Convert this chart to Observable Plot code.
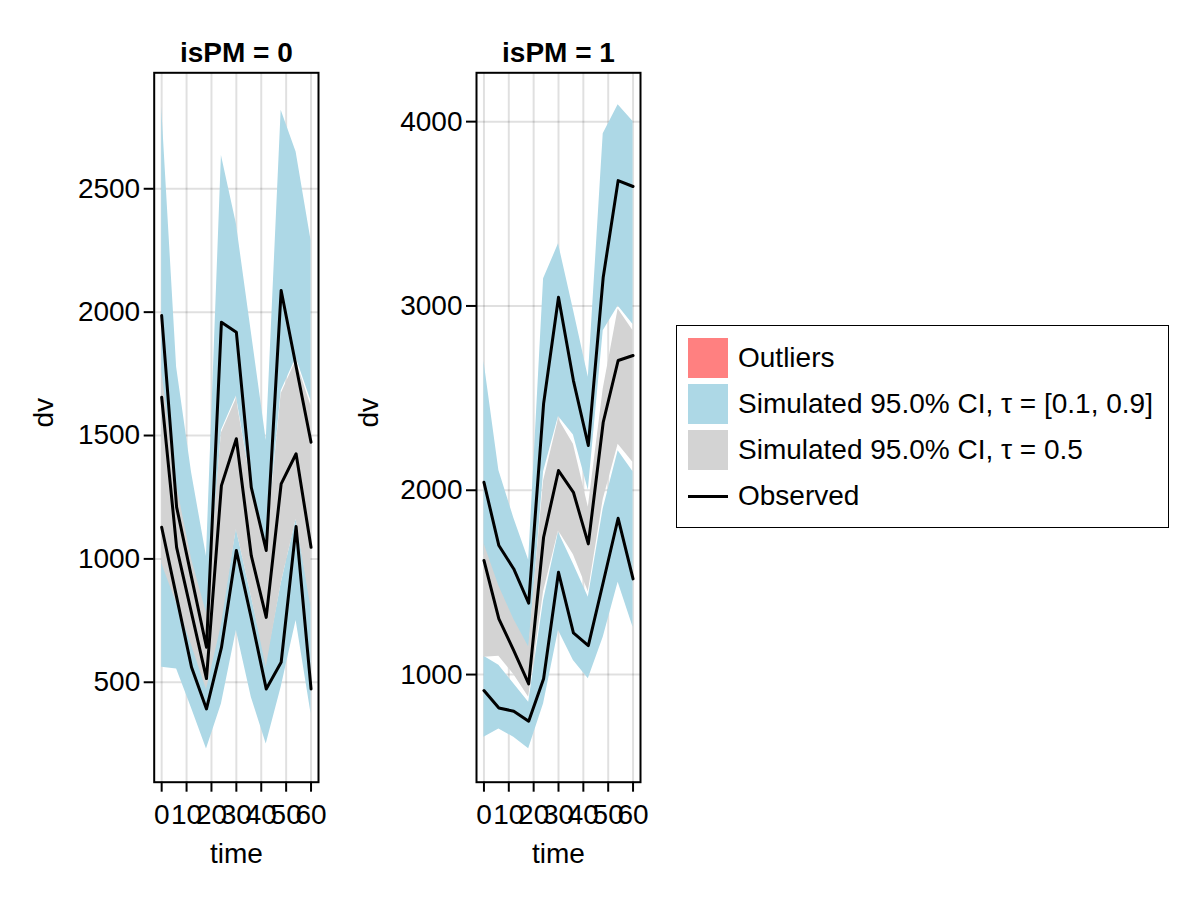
<!DOCTYPE html>
<html>
<head>
<meta charset="utf-8">
<script src="https://cdn.jsdelivr.net/npm/d3@7"></script>
<script src="https://cdn.jsdelivr.net/npm/@observablehq/plot@0.6"></script>
<style>
  html, body { margin: 0; padding: 0; background: #fff; }
  #root { position: relative; width: 1200px; height: 900px; font-family: "Liberation Sans", Arial, sans-serif; }
  #root svg { position: absolute; top: 0; overflow: visible; }
  #legend { position: absolute; left: 676px; top: 325px; width: 493px; height: 203px; border: 1.5px solid #000; box-sizing: border-box; font-size: 28px; color: #000; }
  .item { position: absolute; left: 11px; height: 40px; display: flex; align-items: center; }
  .sw { width: 40px; height: 40px; margin-right: 10px; flex: none; }
  .ln { width: 40px; height: 0; border-top: 3px solid #000; margin-right: 10px; flex: none; }
</style>
</head>
<body>
<div id="root"></div>
<script>
const times = [0, 6, 12, 18, 24, 30, 36, 42, 48, 54, 60];
const xTicks = [0, 10, 20, 30, 40, 50, 60];

// isPM = 0
const p0_obs10 = [1128, 845, 561, 392, 640, 1034, 760, 473, 581, 1131, 473];
const p0_obs50 = [1655, 1047, 780, 515, 1297, 1487, 1013, 763, 1304, 1426, 1047];
const p0_obs90 = [1986, 1210, 925, 642, 1959, 1919, 1290, 1034, 2088, 1780, 1473];
const p0_hiLo = [1500, 1150, 900, 700, 1520, 1660, 1300, 1050, 1680, 1815, 1640];
const p0_hiHi = [2831, 1777, 1350, 1010, 2635, 2358, 1920, 1480, 2818, 2649, 2290];
const p0_midLo = [981, 820, 650, 470, 730, 1120, 850, 560, 900, 1160, 800];
const p0_midHi = [1764, 1300, 1000, 780, 1510, 1649, 1300, 1040, 1669, 1804, 1620];
const p0_loLo = [561, 554, 395, 230, 412, 710, 439, 250, 480, 750, 372];
const p0_loHi = [1000, 880, 700, 520, 760, 1120, 850, 580, 900, 1160, 820];
const p0_yTicks = [500, 1000, 1500, 2000, 2500];

// isPM = 1
const p1_obs10 = [913, 819, 801, 747, 977, 1555, 1226, 1157, 1501, 1848, 1519];
const p1_obs50 = [1619, 1302, 1130, 949, 1745, 2107, 1989, 1709, 2369, 2704, 2731];
const p1_obs90 = [2043, 1700, 1573, 1387, 2469, 3047, 2595, 2243, 3156, 3680, 3648];
const p1_hiLo = [1650, 1440, 1260, 1110, 2100, 2400, 2300, 2000, 2866, 3000, 2900];
const p1_hiHi = [2700, 2107, 1850, 1620, 3147, 3337, 2980, 2613, 3934, 4091, 4001];
const p1_midLo = [1094, 1100, 1000, 877, 1450, 1780, 1650, 1450, 1950, 2250, 2150];
const p1_midHi = [1711, 1480, 1300, 1150, 2050, 2387, 2250, 1908, 2550, 2984, 2866];
const p1_loLo = [660, 705, 660, 597, 841, 1239, 1076, 977, 1202, 1501, 1257];
const p1_loHi = [1100, 1050, 950, 850, 1400, 1772, 1600, 1420, 1900, 2215, 2100];
const p1_yTicks = [1000, 2000, 3000, 4000];

const BLUE = "#add8e6", GREY = "#d3d3d3", RED = "#ff8080";
const FONT = "Liberation Sans, Arial, sans-serif";
const FS = 28;

function rows(lo, hi) { return times.map((t, i) => ({t, lo: lo[i], hi: hi[i]})); }
function pts(v) { return times.map((t, i) => ({t, v: v[i]})); }

function panel(cfg) {
  return Plot.plot({
    width: cfg.width, height: 900,
    marginLeft: cfg.ml, marginRight: cfg.mr, marginTop: 72.3, marginBottom: 118.3,
    style: {fontFamily: FONT, fontSize: FS + "px", color: "#000", background: "transparent"},
    x: {domain: [-3, 63]},
    y: {domain: cfg.ydom},
    marks: [
      Plot.gridX(xTicks, {stroke: "#000", strokeOpacity: 0.12, strokeWidth: 2}),
      Plot.gridY(cfg.yTicks, {stroke: "#000", strokeOpacity: 0.12, strokeWidth: 2}),
      Plot.areaY(rows(cfg.hiLo, cfg.hiHi), {x: "t", y1: "lo", y2: "hi", fill: BLUE}),
      Plot.areaY(rows(cfg.loLo, cfg.loHi), {x: "t", y1: "lo", y2: "hi", fill: BLUE}),
      Plot.areaY(rows(cfg.midLo, cfg.midHi), {x: "t", y1: "lo", y2: "hi", fill: GREY}),
      Plot.line(pts(cfg.o10), {x: "t", y: "v", stroke: "#000", strokeWidth: 3}),
      Plot.line(pts(cfg.o50), {x: "t", y: "v", stroke: "#000", strokeWidth: 3}),
      Plot.line(pts(cfg.o90), {x: "t", y: "v", stroke: "#000", strokeWidth: 3}),
      Plot.frame({stroke: "#000", strokeWidth: 2}),
      Plot.axisX(xTicks, {tickSize: 10, tickPadding: 12, strokeWidth: 2, label: null, fontSize: FS, tickFormat: d => String(d)}),
      Plot.axisY(cfg.yTicks, {tickSize: 10, tickPadding: 4, strokeWidth: 2, label: null, fontSize: FS, tickFormat: d => String(d)}),
      Plot.text([cfg.title], {frameAnchor: "top", dy: -20, fontWeight: "bold", fontSize: FS, lineAnchor: "middle"}),
      Plot.text(["time"], {frameAnchor: "bottom", dy: 72, fontSize: FS, lineAnchor: "middle"}),
      Plot.text(["dv"], {frameAnchor: "left", dx: cfg.dvdx, rotate: -90, fontSize: FS, lineAnchor: "middle"})
    ]
  });
}

const root = document.getElementById("root");
const s0 = panel({width: 330, ml: 153.7, mr: 12, ydom: [95, 2970], yTicks: p0_yTicks, title: "isPM = 0",
  o10: p0_obs10, o50: p0_obs50, o90: p0_obs90, hiLo: p0_hiLo, hiHi: p0_hiHi,
  midLo: p0_midLo, midHi: p0_midHi, loLo: p0_loLo, loHi: p0_loHi, dvdx: -110});
s0.style.left = "0px";
root.appendChild(s0);
const s1 = panel({width: 330, ml: 146, mr: 20, ydom: [416, 4265], yTicks: p1_yTicks, title: "isPM = 1",
  o10: p1_obs10, o50: p1_obs50, o90: p1_obs90, hiLo: p1_hiLo, hiHi: p1_hiHi,
  midLo: p1_midLo, midHi: p1_midHi, loLo: p1_loLo, loHi: p1_loHi, dvdx: -107});
s1.style.left = "330px";
root.appendChild(s1);

const legendItems = [
  {label: "Outliers", type: "patch", color: RED},
  {label: "Simulated 95.0% CI, τ = [0.1, 0.9]", type: "patch", color: BLUE},
  {label: "Simulated 95.0% CI, τ = 0.5", type: "patch", color: GREY},
  {label: "Observed", type: "line", color: "#000"}
];
const lg = document.createElement("div");
lg.id = "legend";
legendItems.forEach((d, i) => {
  const it = document.createElement("div");
  it.className = "item";
  it.style.top = (12 + i * 46) + "px";
  const sw = document.createElement("div");
  if (d.type === "patch") { sw.className = "sw"; sw.style.background = d.color; }
  else { sw.className = "ln"; sw.style.borderTopColor = d.color; }
  it.appendChild(sw);
  const tx = document.createElement("span");
  tx.textContent = d.label;
  it.appendChild(tx);
  lg.appendChild(it);
});
root.appendChild(lg);
</script>
</body>
</html>
